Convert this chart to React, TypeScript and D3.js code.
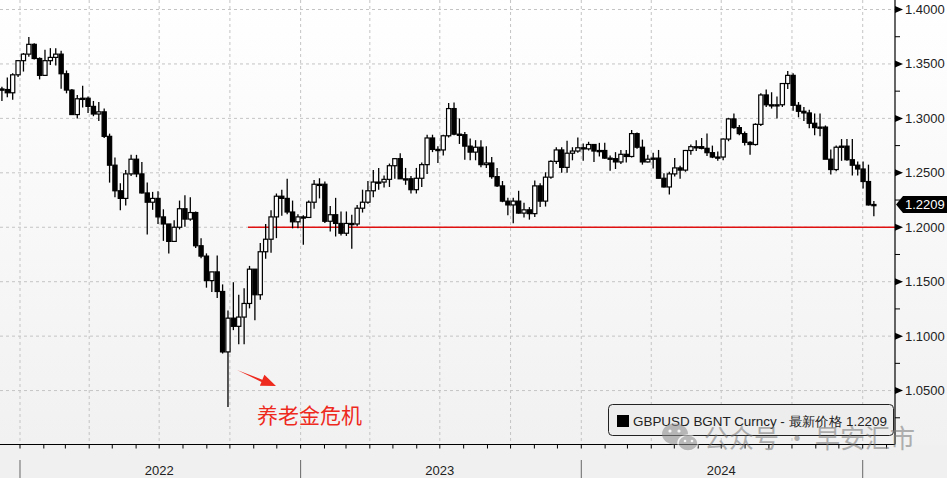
import React from 'react';
import * as d3 from 'd3';

// Weekly OHLC of GBPUSD (weeks starting Monday 2021-12-06 .. 2025-01-13)
const opens = [
  1.3270, 1.3265, 1.3235, 1.3400,
  1.3530, 1.3590, 1.3680, 1.3550, 1.3395, 1.3530, 1.3560, 1.3590, 1.3410, 1.3260, 1.3035, 1.3180, 1.3185,
  1.3110, 1.3040, 1.3060, 1.2835, 1.2570, 1.2335, 1.2265, 1.2490, 1.2625, 1.2490, 1.2315, 1.2230, 1.2265,
  1.2095, 1.2030, 1.1870, 1.2000, 1.2170, 1.2075, 1.2135, 1.1830, 1.1735, 1.1510, 1.1590, 1.1410, 1.0855,
  1.1165, 1.1090, 1.1175, 1.1300, 1.1615, 1.1380, 1.1775, 1.1890, 1.2095, 1.2285, 1.2265, 1.2140, 1.2050,
  1.2095, 1.2090, 1.2230, 1.2395, 1.2395, 1.2055, 1.2115, 1.2035, 1.1945, 1.2035, 1.2030, 1.2175, 1.2230,
  1.2335, 1.2415, 1.2415, 1.2440, 1.2565, 1.2630, 1.2445, 1.2445, 1.2345, 1.2450, 1.2575, 1.2820, 1.2715,
  1.2710, 1.2840, 1.3090, 1.2855, 1.2850, 1.2745, 1.2690, 1.2735, 1.2575, 1.2590, 1.2465, 1.2380, 1.2240,
  1.2205, 1.2240, 1.2130, 1.2160, 1.2125, 1.2380, 1.2240, 1.2460, 1.2605, 1.2710, 1.2550, 1.2680, 1.2700,
  1.2730, 1.2720, 1.2760, 1.2700, 1.2705, 1.2635, 1.2630, 1.2600, 1.2670, 1.2650, 1.2860, 1.2735, 1.2600,
  1.2625, 1.2635, 1.2450, 1.2370, 1.2490, 1.2545, 1.2525, 1.2705, 1.2740, 1.2740, 1.2725, 1.2685, 1.2645,
  1.2645, 1.2810, 1.2995, 1.2915, 1.2860, 1.2780, 1.2760, 1.2945, 1.3215, 1.3125, 1.3125, 1.3125, 1.3320,
  1.3395, 1.3120, 1.3065, 1.3050, 1.2955, 1.2915, 1.2920, 1.2625, 1.2530, 1.2735, 1.2745, 1.2620, 1.2570,
  1.2535, 1.2420, 1.2205,
];
const highs = [
  1.3290, 1.3375, 1.3415, 1.3535,
  1.3600, 1.3748, 1.3690, 1.3560, 1.3630, 1.3645, 1.3645, 1.3620, 1.3440, 1.3270, 1.3215, 1.3300, 1.3200,
  1.3160, 1.3150, 1.3090, 1.2860, 1.2640, 1.2405, 1.2525, 1.2665, 1.2665, 1.2600, 1.2410, 1.2325, 1.2330,
  1.2165, 1.2020, 1.2065, 1.2245, 1.2293, 1.2275, 1.2145, 1.1900, 1.1760, 1.1590, 1.1740, 1.1475, 1.1235,
  1.1495, 1.1380, 1.1440, 1.1645, 1.1615, 1.1855, 1.2030, 1.2155, 1.2310, 1.2345, 1.2446, 1.2245, 1.2120,
  1.2110, 1.2245, 1.2435, 1.2450, 1.2420, 1.2195, 1.2270, 1.2145, 1.2145, 1.2115, 1.2205, 1.2345, 1.2425,
  1.2525, 1.2545, 1.2475, 1.2585, 1.2635, 1.2680, 1.2545, 1.2470, 1.2545, 1.2595, 1.2850, 1.2850, 1.2745,
  1.2850, 1.3142, 1.3145, 1.3000, 1.2875, 1.2815, 1.2800, 1.2800, 1.2745, 1.2645, 1.2545, 1.2425, 1.2270,
  1.2270, 1.2335, 1.2225, 1.2185, 1.2430, 1.2405, 1.2505, 1.2615, 1.2735, 1.2735, 1.2795, 1.2735, 1.2825,
  1.2770, 1.2785, 1.2765, 1.2775, 1.2775, 1.2660, 1.2690, 1.2710, 1.2710, 1.2893, 1.2870, 1.2805, 1.2665,
  1.2685, 1.2710, 1.2495, 1.2510, 1.2635, 1.2565, 1.2710, 1.2760, 1.2800, 1.2820, 1.2860, 1.2750, 1.2695,
  1.2815, 1.3005, 1.3044, 1.2940, 1.2880, 1.2790, 1.2955, 1.3230, 1.3265, 1.3240, 1.3200, 1.3320, 1.3434,
  1.3415, 1.3150, 1.3105, 1.3080, 1.3045, 1.3045, 1.2935, 1.2715, 1.2750, 1.2810, 1.2810, 1.2810, 1.2605,
  1.2605, 1.2575, 1.2240,
];
const lows = [
  1.3160, 1.3195, 1.3170, 1.3380,
  1.3430, 1.3565, 1.3540, 1.3358, 1.3390, 1.3490, 1.3485, 1.3273, 1.3230, 1.3035, 1.3000, 1.3100, 1.3050,
  1.3020, 1.2975, 1.2820, 1.2410, 1.2275, 1.2155, 1.2200, 1.2470, 1.2460, 1.2310, 1.1934, 1.2160, 1.2030,
  1.1875, 1.1760, 1.1890, 1.1980, 1.2005, 1.2060, 1.1810, 1.1715, 1.1445, 1.1405, 1.1350, 1.0840, 1.0350,
  1.1055, 1.0925, 1.0925, 1.1255, 1.1145, 1.1335, 1.1710, 1.1765, 1.1900, 1.2105, 1.2120, 1.1990, 1.1990,
  1.1840, 1.2085, 1.2170, 1.2265, 1.2040, 1.1960, 1.1915, 1.1925, 1.1920, 1.1803, 1.2010, 1.2135, 1.2215,
  1.2275, 1.2345, 1.2365, 1.2370, 1.2445, 1.2445, 1.2390, 1.2310, 1.2310, 1.2370, 1.2490, 1.2690, 1.2590,
  1.2660, 1.2825, 1.2845, 1.2765, 1.2620, 1.2615, 1.2615, 1.2550, 1.2545, 1.2445, 1.2370, 1.2230, 1.2110,
  1.2037, 1.2125, 1.2090, 1.2070, 1.2095, 1.2185, 1.2190, 1.2445, 1.2580, 1.2500, 1.2500, 1.2615, 1.2685,
  1.2610, 1.2705, 1.2600, 1.2650, 1.2630, 1.2520, 1.2535, 1.2580, 1.2595, 1.2640, 1.2720, 1.2575, 1.2595,
  1.2540, 1.2450, 1.2365, 1.2300, 1.2465, 1.2445, 1.2510, 1.2665, 1.2700, 1.2715, 1.2655, 1.2635, 1.2610,
  1.2615, 1.2790, 1.2905, 1.2845, 1.2750, 1.2665, 1.2750, 1.2930, 1.3105, 1.3090, 1.3000, 1.3105, 1.3270,
  1.3070, 1.3010, 1.2975, 1.2910, 1.2845, 1.2835, 1.2630, 1.2485, 1.2515, 1.2610, 1.2610, 1.2475, 1.2475,
  1.2355, 1.2200, 1.2100,
];
const closes = [
  1.3265, 1.3235, 1.3400, 1.3530,
  1.3590, 1.3680, 1.3550, 1.3395, 1.3530, 1.3560, 1.3590, 1.3410, 1.3260, 1.3035, 1.3180, 1.3185, 1.3110,
  1.3040, 1.3060, 1.2835, 1.2570, 1.2335, 1.2265, 1.2490, 1.2625, 1.2490, 1.2315, 1.2230, 1.2265, 1.2095,
  1.2030, 1.1870, 1.2000, 1.2170, 1.2075, 1.2135, 1.1830, 1.1735, 1.1510, 1.1590, 1.1410, 1.0855, 1.1165,
  1.1090, 1.1175, 1.1300, 1.1615, 1.1380, 1.1775, 1.1890, 1.2095, 1.2285, 1.2265, 1.2140, 1.2050, 1.2095,
  1.2090, 1.2230, 1.2395, 1.2395, 1.2055, 1.2115, 1.2035, 1.1945, 1.2035, 1.2030, 1.2175, 1.2230, 1.2335,
  1.2415, 1.2415, 1.2440, 1.2565, 1.2630, 1.2445, 1.2445, 1.2345, 1.2450, 1.2575, 1.2820, 1.2715, 1.2710,
  1.2840, 1.3090, 1.2855, 1.2850, 1.2745, 1.2690, 1.2735, 1.2575, 1.2590, 1.2465, 1.2380, 1.2240, 1.2205,
  1.2240, 1.2130, 1.2160, 1.2125, 1.2380, 1.2240, 1.2460, 1.2605, 1.2710, 1.2550, 1.2680, 1.2700, 1.2730,
  1.2720, 1.2760, 1.2700, 1.2705, 1.2635, 1.2630, 1.2600, 1.2670, 1.2650, 1.2860, 1.2735, 1.2600, 1.2625,
  1.2635, 1.2450, 1.2370, 1.2490, 1.2545, 1.2525, 1.2705, 1.2740, 1.2740, 1.2725, 1.2685, 1.2645, 1.2645,
  1.2810, 1.2995, 1.2915, 1.2860, 1.2780, 1.2760, 1.2945, 1.3215, 1.3125, 1.3125, 1.3125, 1.3320, 1.3395,
  1.3120, 1.3065, 1.3050, 1.2955, 1.2915, 1.2920, 1.2625, 1.2530, 1.2735, 1.2745, 1.2620, 1.2570, 1.2535,
  1.2420, 1.2205, 1.2209,
];

const yTicks = [1.05, 1.1, 1.15, 1.2, 1.25, 1.3, 1.35, 1.4];
const yearLabels = ['2022', '2023', '2024'];
const lastPrice = 1.2209;
const refLevel = 1.2;
const legendText = 'GBPUSD BGNT Curncy - 最新价格 1.2209';
const annotationText = '养老金危机';
const watermarkText = '公众号 · 早安汇市';

const W = 947;
const H = 478;
const FONT = '"Liberation Sans", Arial, sans-serif';
const CJK = '"Noto Sans CJK SC", "Liberation Sans", sans-serif';

export default function App() {
  const plotRight = 895;
  const axisY = 444.5;
  const x = d3
    .scaleUtc()
    .domain([new Date(Date.UTC(2021, 11, 6)), new Date(Date.UTC(2025, 1, 12))])
    .range([0, plotRight]);
  const y = d3.scaleLinear().domain([1.0, 1.4]).range([445, 9.5]);

  const weeks = d3.utcMonday.range(new Date(Date.UTC(2021, 11, 6)), new Date(Date.UTC(2025, 0, 14)));
  const n = Math.min(weeks.length, opens.length, highs.length, lows.length, closes.length);
  const bodyW = 4.2;

  const quarters = d3.utcMonth.every(3)!.range(new Date(Date.UTC(2022, 0, 1)), new Date(Date.UTC(2025, 1, 1)));
  const months = d3.utcMonth.range(new Date(Date.UTC(2022, 0, 1)), new Date(Date.UTC(2025, 1, 2)));
  const years = d3.utcYear.range(new Date(Date.UTC(2022, 0, 1)), new Date(Date.UTC(2025, 0, 2)));
  const minorTicks = d3.range(1.025, 1.41, 0.05);

  const candles = [];
  for (let i = 0; i < n; i++) {
    const cx = x(d3.utcHour.offset(weeks[i], 60));
    const o = opens[i], c = closes[i];
    const up = c >= o;
    const top = y(Math.max(o, c));
    const bot = y(Math.min(o, c));
    candles.push(
      <g key={i}>
        <line x1={cx} x2={cx} y1={y(highs[i])} y2={y(lows[i])} stroke="#000" strokeWidth={1.3} />
        <rect
          x={cx - bodyW / 2}
          y={top}
          width={bodyW}
          height={Math.max(1.2, bot - top)}
          fill={up ? '#fff' : '#000'}
          stroke="#000"
          strokeWidth={1.2}
        />
      </g>
    );
  }

  const py = y(lastPrice);
  const annStart: [number, number] = [237, 370];
  const annTip: [number, number] = [276, 386];
  const dx = annTip[0] - annStart[0], dy = annTip[1] - annStart[1];
  const len = Math.hypot(dx, dy);
  const ux = dx / len, uy = dy / len;
  const px = -uy, pyv = ux;
  const headL = 15, headW = 6, shaftW = 1.8;
  const bx = annTip[0] - ux * headL, by = annTip[1] - uy * headL;
  const arrowPts = [
    [annStart[0], annStart[1]],
    [bx + px * shaftW, by + pyv * shaftW],
    [bx + px * headW, by + pyv * headW],
    [annTip[0], annTip[1]],
    [bx - px * headW, by - pyv * headW],
    [bx - px * shaftW * 0.3, by - pyv * shaftW * 0.3],
  ]
    .map((p) => p.join(','))
    .join(' ');

  return (
    <svg
      width={W}
      height={H}
      viewBox={`0 0 ${W} ${H}`}
      style={{ position: 'fixed', left: 0, top: 0, display: 'block' }}
    >
      <defs>
        <linearGradient id="bg" x1="0" y1="0" x2="0" y2="1">
          <stop offset="0" stopColor="#ffffff" />
          <stop offset="1" stopColor="#f1f1f1" />
        </linearGradient>
      </defs>
      <rect x={0} y={0} width={W} height={445} fill="url(#bg)" />
      <rect x={0} y={445} width={W} height={H - 445} fill="#f0f0f0" />

      {/* grid */}
      {yTicks.map((t) => (
        <line key={'h' + t} x1={0} x2={plotRight} y1={y(t)} y2={y(t)} stroke="#c4c4c4" strokeDasharray="3,3" strokeWidth={1} />
      ))}
      {quarters.map((d) => (
        <line key={'v' + d.getTime()} x1={x(d)} x2={x(d)} y1={0} y2={axisY} stroke="#c4c4c4" strokeDasharray="3,3" strokeWidth={1} />
      ))}

      {/* reference line */}
      <line x1={248} x2={plotRight} y1={y(refLevel)} y2={y(refLevel)} stroke="#e01010" strokeWidth={1.3} />

      {/* candles */}
      <g>{candles}</g>

      {/* axes */}
      <line x1={plotRight} x2={plotRight} y1={0} y2={axisY} stroke="#000" strokeWidth={1.2} />
      <line x1={0} x2={plotRight} y1={axisY} y2={axisY} stroke="#000" strokeWidth={1.2} />
      {months.map((d) => (
        <line key={'m' + d.getTime()} x1={x(d)} x2={x(d)} y1={axisY} y2={axisY + 4} stroke="#000" strokeWidth={1} />
      ))}
      {years.map((d) => (
        <line key={'y' + d.getTime()} x1={x(d)} x2={x(d)} y1={460} y2={H} stroke="#666" strokeWidth={1} />
      ))}
      {yearLabels.map((lab, i) => (
        <text
          key={lab}
          x={x(new Date(Date.UTC(2022 + i, 6, 1)))}
          y={475}
          textAnchor="middle"
          fontFamily={FONT}
          fontSize={13}
          fill="#222"
        >
          {lab}
        </text>
      ))}
      {minorTicks.map((t) => (
        <line key={'mt' + t} x1={plotRight} x2={plotRight + 5} y1={y(t)} y2={y(t)} stroke="#000" strokeWidth={1} />
      ))}
      {yTicks.map((t) => (
        <g key={'yt' + t}>
          <path d={`M${plotRight},${y(t) - 3.5} L${plotRight + 8},${y(t)} L${plotRight},${y(t) + 3.5} Z`} fill="#000" />
          <text x={905} y={y(t) + 4.5} fontFamily={FONT} fontSize={13} fill="#222">
            {t.toFixed(4)}
          </text>
        </g>
      ))}

      {/* last price tag */}
      <path d={`M${plotRight + 1},${py} L${903},${py - 8.5} L${W},${py - 8.5} L${W},${py + 8.5} L${903},${py + 8.5} Z`} fill="#000" />
      <text x={905} y={py + 4.5} fontFamily={FONT} fontSize={13} fill="#fff">
        {lastPrice.toFixed(4)}
      </text>

      {/* annotation */}
      <polygon points={arrowPts} fill="#ee2a1e" />
      <text x={257} y={423} fontFamily={CJK} fontSize={21} fill="#ee2a1e">
        {annotationText}
      </text>

      {/* legend */}
      <rect x={608.5} y={404.5} width={285} height={31} rx={4} ry={4} fill="#ededed" stroke="#222" strokeWidth={1} />
      <rect x={617} y={415} width={12} height={12} fill="#000" />
      <text x={633} y={426} fontFamily={FONT} fontSize={13} fill="#222" textLength={254} lengthAdjust="spacingAndGlyphs">
        {legendText}
      </text>

      {/* watermark */}
      <g opacity={0.55}>
        <ellipse cx={675} cy={434} rx={13} ry={10.5} fill="#8a8a8a" />
        <ellipse cx={688} cy={443} rx={10} ry={8} fill="#8a8a8a" stroke="#f4f4f4" strokeWidth={1.5} />
        <circle cx={670} cy={431} r={1.6} fill="#fff" />
        <circle cx={679} cy={431} r={1.6} fill="#fff" />
        <circle cx={685} cy={441} r={1.3} fill="#fff" />
        <circle cx={692} cy={441} r={1.3} fill="#fff" />
        <text x={704} y={448} fontFamily={CJK} fontSize={26} fill="#777" textLength={211} lengthAdjust="spacingAndGlyphs">
          {watermarkText}
        </text>
      </g>
    </svg>
  );
}
